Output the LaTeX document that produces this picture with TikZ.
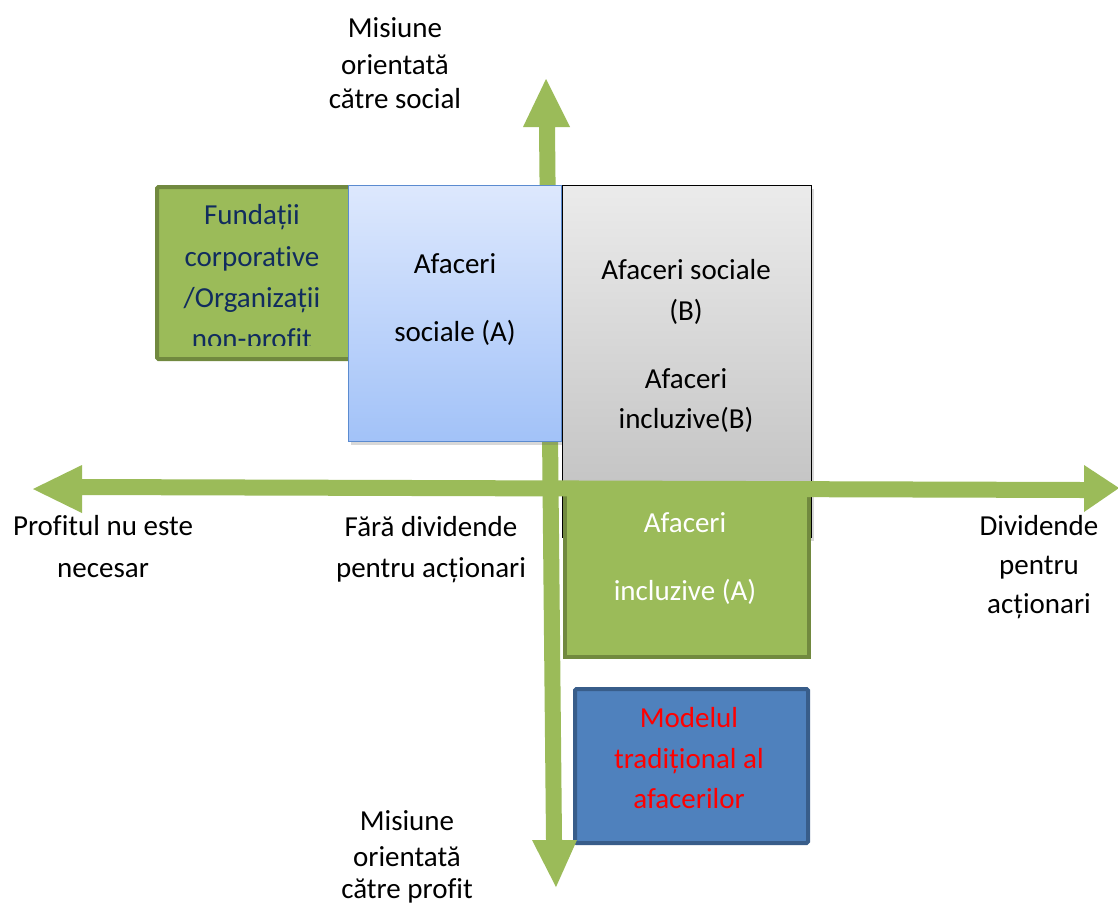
\documentclass[tikz,border=0pt]{standalone}
\usepackage{fontspec}
\setmainfont{Carlito}[Ligatures=NoCommon]
\usetikzlibrary{shadows}
\definecolor{axgreen}{HTML}{9BBB59}
\definecolor{boxgreenD}{HTML}{71893F}
\definecolor{midblue}{HTML}{4F81BD}
\definecolor{midblueD}{HTML}{385D8A}
\definecolor{navytxt}{HTML}{112C5E}
\definecolor{lblueT}{HTML}{DDE8FD}
\definecolor{lblueB}{HTML}{A2C2F8}
\definecolor{lblueE}{HTML}{5B8BD0}
\definecolor{greyT}{HTML}{EBEBEB}
\definecolor{greyB}{HTML}{BEBEBE}
\begin{document}
\begin{tikzpicture}[x=1pt,y=-1pt,
  txt/.style={inner sep=0pt,anchor=base,font=\fontsize{29}{35}\selectfont},
  boxshape/.style={rectangle,inner sep=0pt,anchor=north west},
  axisarrow/.style={fill=axgreen,draw=none},
  softshadow/.style={drop shadow={shadow xshift=2pt,shadow yshift=-3pt,opacity=0.25,fill=black!60}}]
\useasboundingbox[fill=white] (0,0) rectangle (1118,906);

% traditional model box (under the vertical axis head)
\node[boxshape,fill=midblue,draw=midblueD,line width=4pt,rounded corners=1.5pt,
      minimum width=233pt,minimum height=154pt] (trad) at (573,687) {};

% vertical axis (double headed, slightly tilted)
\fill[axisarrow] (546,79) -- (570,127) -- (555,127) -- (562,840) -- (577,840)
  -- (556,887) -- (532,840) -- (546,840) -- (539,127) -- (523,127) -- cycle;
\coordinate (vtop) at (546,79);
\coordinate (vbot) at (556,887);

% foundations box
\node[boxshape,fill=axgreen,draw=boxgreenD,line width=4pt,rounded corners=1.5pt,
      minimum width=195pt,minimum height=172pt] (fund) at (155,185) {};
\begin{scope}
\clip (158,187) rectangle (348,345);
\node[txt,text=navytxt] (f1) at (252,224) {Fundații};
\node[txt,text=navytxt] (f2) at (252,266) {corporative};
\node[txt,text=navytxt] (f3) at (252,307) {/Organizații};
\node[txt,text=navytxt] (f4) at (252,348) {non-profit};
\end{scope}

% social business A
\node[boxshape,top color=lblueT,bottom color=lblueB,draw=lblueE,line width=1pt,
      softshadow,minimum width=213pt,minimum height=256pt] (socA) at (348,185) {};
\node[txt] (sa1) at (455,273) {Afaceri};
\node[txt] (sa2) at (455,341) {sociale (A)};

% social / inclusive business B
\node[boxshape,top color=greyT,bottom color=greyB,draw=black,line width=1pt,
      softshadow,minimum width=249pt,minimum height=352pt] (socB) at (562,185) {};
\node[txt] (sb1) at (686,279) {Afaceri sociale};
\node[txt] (sb2) at (686,320) {(B)};
\node[txt] (sb3) at (686,388) {Afaceri};
\node[txt] (sb4) at (686,428) {incluzive(B)};

% inclusive business A
\node[boxshape,fill=axgreen,draw=boxgreenD,line width=4pt,
      minimum width=244pt,minimum height=168pt] (incA) at (563,487) {};
\node[txt,text=white] (ia1) at (685,532) {Afaceri};
\node[txt,text=white] (ia2) at (685,600) {incluzive (A)};

% traditional model text
\node[txt,text=red] (t1) at (689,727) {Modelul};
\node[txt,text=red] (t2) at (689,768) {tradițional al};
\node[txt,text=red] (t3) at (689,808) {afacerilor};

% horizontal axis (double headed)
\fill[axisarrow] (33,489) -- (82,465) -- (82,479) -- (1084,482) -- (1084,465)
  -- (1119,488) -- (1084,512) -- (1084,498) -- (82,495) -- (82,513) -- cycle;
\coordinate (hleft) at (33,489);
\coordinate (hright) at (1119,488);

% axis labels
\node[txt] (mt1) at (395,37) {Misiune};
\node[txt] (mt2) at (395,74) {orientată};
\node[txt] (mt3) at (395,108) {către social};

\node[txt] (mb1) at (407,830) {Misiune};
\node[txt] (mb2) at (407,866) {orientată};
\node[txt] (mb3) at (407,898) {către profit};

\node[txt] (l1) at (103,535) {Profitul nu este};
\node[txt] (l2) at (103,577) {necesar};

\node[txt] (c1) at (431,536) {Fără dividende};
\node[txt] (c2) at (431,577) {pentru acționari};

\node[txt] (r1) at (1039,535) {Dividende};
\node[txt] (r2) at (1039,574) {pentru};
\node[txt] (r3) at (1039,613) {acționari};
\end{tikzpicture}
\end{document}
